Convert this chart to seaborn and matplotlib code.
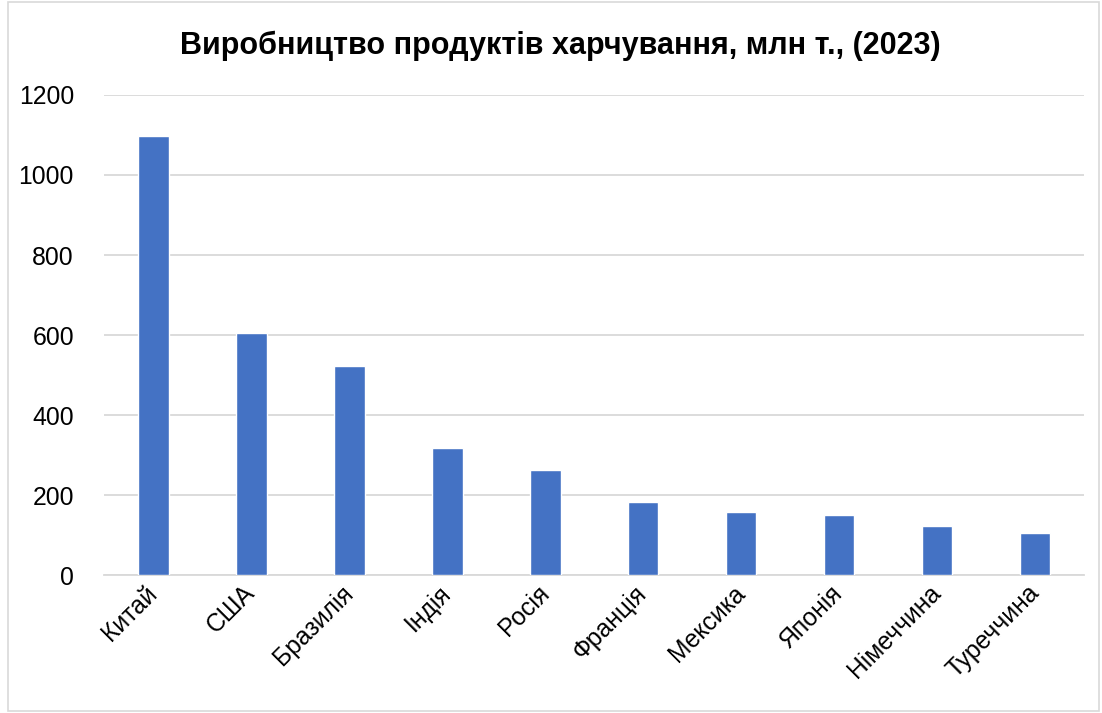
import matplotlib
matplotlib.use("Agg")
import matplotlib.pyplot as plt
import seaborn as sns
import pandas as pd
from matplotlib.patches import Rectangle

countries = ["Китай", "США", "Бразилія", "Індія", "Росія", "Франція",
             "Мексика", "Японія", "Німеччина", "Туреччина"]
values = [1097, 606, 522, 319, 262, 184, 158, 150, 124, 106]
yticks = [0, 200, 400, 600, 800, 1000, 1200]
title = "Виробництво продуктів харчування, млн т., (2023)"

sns.set_theme(style="white")
plt.rcParams['font.family'] = ['Liberation Sans', 'DejaVu Sans']

df = pd.DataFrame({"country": countries, "value": values})

fig = plt.figure(figsize=(11.02, 7.13), dpi=100)
ax = fig.add_axes([0.0948, 0.193, 0.889, 0.674])

sns.barplot(data=df, x="country", y="value", color="#4472C4", width=0.31,
            saturation=1, ax=ax, zorder=3)

ax.set_ylim(0, 1200)
ax.set_yticks(yticks)
ax.set_yticklabels([str(t) for t in yticks], fontsize=17.8, color="#000000")
ax.yaxis.grid(True, color="#d9d9d9", linewidth=1.3, zorder=0)
ax.set_axisbelow(True)
for s in ["top", "right", "left"]:
    ax.spines[s].set_visible(False)
ax.spines["bottom"].set_color("#d9d9d9")
ax.spines["bottom"].set_linewidth(1.3)
ax.tick_params(axis="both", length=0)
ax.tick_params(axis="y", pad=22)
ax.tick_params(axis="x", pad=10)
ax.set_xlabel("")
ax.set_ylabel("")
ax.set_xticks(range(len(countries)))
ax.set_xticklabels(countries, rotation=45, ha="right", va="center",
                   rotation_mode="anchor", fontsize=17.8, color="#000000")

fig.text(0.508, 0.936, title, ha="center", va="center", fontsize=22,
         fontweight="bold", color="#000000")

fig.patches.append(Rectangle((0.007, 0.003), 0.99, 0.994, transform=fig.transFigure,
                             fill=False, edgecolor="#d9d9d9", linewidth=1.2))

fig.savefig("out.png", dpi=100)
